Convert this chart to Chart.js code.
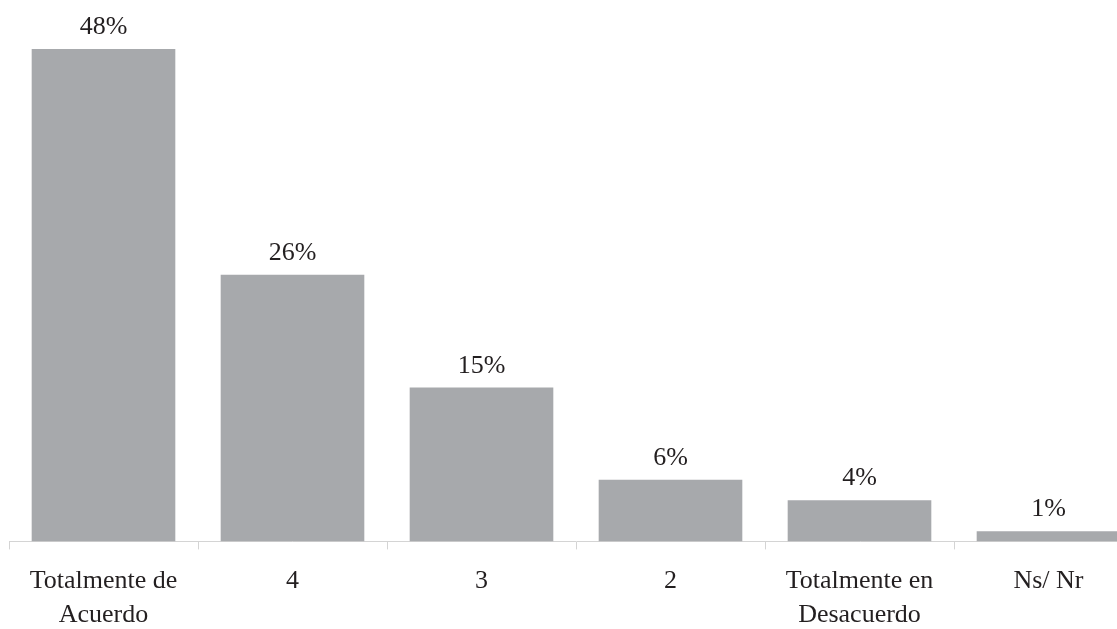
<!DOCTYPE html>
<html>
<head>
<meta charset="utf-8">
<script src="https://cdn.jsdelivr.net/npm/chart.js@4/dist/chart.umd.min.js"></script>
<style>
    html, body { margin: 0; padding: 0; background: #fff; overflow: hidden; }
    #contenedor { width: 1143px; height: 647px; }
</style>
</head>
<body>
<div id="contenedor">
    <canvas id="grafica-respuestas" width="1143" height="647"></canvas>
</div>
<script>
const categorias = [['Totalmente de', 'Acuerdo'], '4', '3', '2', ['Totalmente en', 'Desacuerdo'], 'Ns/ Nr'];
const porcentajes = [48, 26, 15, 6, 4, 1];

(function() {
    const fuente = 'Liberation Serif, Times New Roman, serif';

    // Escribe el porcentaje encima de cada barra
    const etiquetasValor = {
        id: 'etiquetasValor',
        afterDatasetsDraw(chart) {
            const ctx = chart.ctx;
            const meta = chart.getDatasetMeta(0);
            ctx.save();
            ctx.font = '26px ' + fuente;
            ctx.fillStyle = '#231f20';
            ctx.textAlign = 'center';
            ctx.textBaseline = 'alphabetic';
            meta.data.forEach((barra, i) => {
                ctx.fillText(porcentajes[i] + '%', barra.x, barra.y - 15);
            });
            ctx.restore();
        }
    };

    const ctx = document.getElementById('grafica-respuestas').getContext('2d');
    new Chart(ctx, {
        type: 'bar',
        data: {
            labels: categorias,
            datasets: [{
                data: porcentajes,
                backgroundColor: '#a7a9ac',
                borderWidth: 0,
                categoryPercentage: 1,
                barPercentage: 0.76
            }]
        },
        options: {
            responsive: false,
            animation: false,
            layout: { padding: { top: 8, left: 9, right: 0, bottom: 0 } },
            plugins: {
                legend: { display: false },
                tooltip: { enabled: false }
            },
            scales: {
                x: {
                    grid: {
                        display: true,
                        drawOnChartArea: false,
                        drawTicks: true,
                        tickLength: 8,
                        color: '#d4d4d4'
                    },
                    border: { display: true, color: '#d4d4d4', width: 1 },
                    ticks: {
                        color: '#231f20',
                        padding: 15,
                        maxRotation: 0,
                        autoSkip: false,
                        font: { family: fuente, size: 26, lineHeight: 1.3 }
                    }
                },
                y: {
                    display: false,
                    min: 0,
                    max: 52
                }
            }
        },
        plugins: [etiquetasValor]
    });
})();
</script>
</body>
</html>
